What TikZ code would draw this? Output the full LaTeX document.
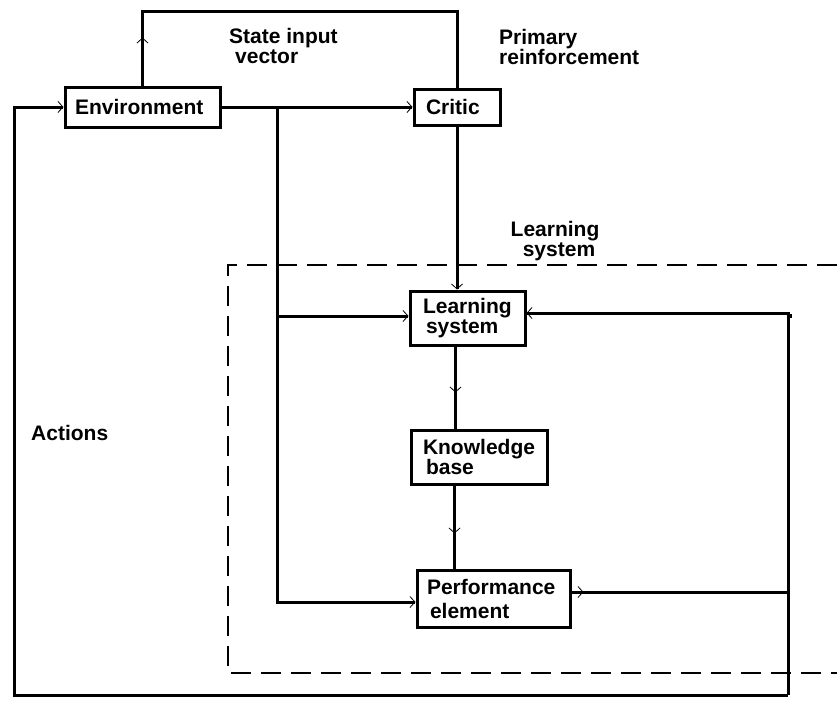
\documentclass[tikz,border=0pt]{standalone}
\usepackage{fontspec}
\setmainfont{Liberation Sans}
\usetikzlibrary{arrows.meta,decorations.markings}

\tikzset{
  blk/.style={draw, line width=3pt, align=left, inner ysep=0pt,
    font=\bfseries\fontsize{21}{#1}\selectfont},
  blk/.default=19,
  lbl/.style={align=left, inner sep=0pt, font=\bfseries\fontsize{21}{20}\selectfont},
  wire/.style={line width=3pt},
  barb/.style={-{Straight Barb[line width=0.8pt,length=5pt,width=11pt]}},
  midbarb/.style={postaction={decorate,decoration={markings,
    mark=at position #1 with {\arrow{Straight Barb[line width=0.8pt,length=5pt,width=11pt]}}}}}
}

\begin{document}
\begin{tikzpicture}[x=1pt,y=-1pt]
  \useasboundingbox (0,0) rectangle (837,701);

  \node[blk, text width=135pt, inner xsep=10pt, minimum height=40pt] (env) at (142.5,107) {Environment};
  \node[blk, text width=62pt, inner xsep=12pt, minimum height=36pt] (critic) at (457,107) {Critic};
  \node[blk=18, text width=89pt, inner xsep=13pt, minimum height=54pt] (ls) at (467.5,318) {Learning\\\hspace*{3pt}system};
  \node[blk=19, text width=112pt, inner xsep=12pt, minimum height=54pt] (kb) at (479,457) {Knowledge\\\hspace*{3pt}base};
  \node[blk=24, text width=133pt, inner xsep=10pt, minimum height=57pt] (pe) at (493.5,598.5) {Performance\\\hspace*{3pt}element};

  \node[lbl, anchor=north west] (lblstate) at (229,28) {State input\\\hspace*{6pt}vector};
  \node[lbl, anchor=north west] (lblprim) at (499,29) {Primary\\reinforcement};
  \node[lbl, align=center, anchor=north] (lbllearn) at (555,221) {Learning\\\hspace*{8pt}system};
  \node[lbl, anchor=west] (lblact) at (31,433) {Actions};

  \draw[dash pattern=on 20pt off 10pt, line width=1.2pt] (837,265) -- (228,265) -- (228,673) -- (837,673);

  \coordinate (tl) at (142.5,12);
  \coordinate (br) at (277,107);
  \coordinate (rc) at (788,695);
  \coordinate (lc) at (14,695);

  \draw[wire, midbarb=48pt] (env.north) -- (tl) -| (critic.north);
  \draw[wire, barb] (env.east) -- (critic.west);
  \draw[wire, barb] (br) |- ([yshift=-3.5pt]pe.west);
  \draw[wire, barb] ([yshift=2pt]ls.west -| br) -- ([yshift=2pt]ls.west);
  \draw[wire, barb] (critic.south) -- (critic.south |- ls.north);
  \draw[wire, midbarb=46pt] ([xshift=-1.5pt]ls.south -| critic) -- ([xshift=-1.5pt]kb.north -| critic);
  \draw[wire, midbarb=48pt] ([xshift=-2.5pt]kb.south -| critic) -- ([xshift=-2.5pt]pe.north -| critic);
  \draw[wire, midbarb=12pt] ([yshift=6.5pt]pe.east) -- ([yshift=6.5pt]pe.east -| rc);
  \draw[wire, barb] (rc) |- ([yshift=5pt]ls.east);
  \draw[wire, barb] (rc) -- (lc) |- (env.west);
  \fill (789,314) rectangle (792,318);
\end{tikzpicture}
\end{document}
